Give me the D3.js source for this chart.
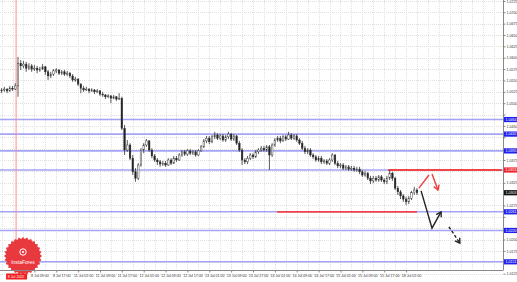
<!DOCTYPE html>
<html>
<head>
<meta charset="utf-8">
<script src="https://cdn.jsdelivr.net/npm/d3@7"></script>
<style>
html, body { margin: 0; padding: 0; background: #fff; overflow: hidden; }
svg { display: block; font-family: "Liberation Sans", Arial, sans-serif; }
</style>
</head>
<body>
<div id="chart"></div>
<script>
// hourly candles, one per slot
const opens = [
1.0527,1.0529,1.0531,1.0527,1.0533,1.0531,1.0538,1.0588,1.0582,1.0586,
1.0577,1.0582,1.0575,1.0577,1.0573,1.0575,1.0580,1.0569,1.0560,1.0564,
1.0571,1.0573,1.0566,1.0569,1.0564,1.0566,1.0560,1.0551,1.0553,1.0542,
1.0533,1.0529,1.0531,1.0527,1.0529,1.0525,1.0527,1.0520,1.0518,1.0514,
1.0516,1.0511,1.0514,1.0509,1.0511,1.0445,1.0397,1.0408,1.0379,1.0349,
1.0335,1.0364,1.0397,1.0408,1.0417,1.0397,1.0384,1.0375,1.0371,1.0366,
1.0368,1.0364,1.0375,1.0368,1.0379,1.0375,1.0386,1.0393,1.0388,1.0395,
1.0390,1.0393,1.0386,1.0395,1.0404,1.0417,1.0423,1.0415,1.0426,1.0430,
1.0423,1.0428,1.0419,1.0426,1.0432,1.0421,1.0428,1.0412,1.0397,1.0375,
1.0371,1.0379,1.0386,1.0382,1.0393,1.0397,1.0401,1.0397,1.0404,1.0386,
1.0408,1.0419,1.0423,1.0417,1.0426,1.0421,1.0430,1.0423,1.0428,1.0419,
1.0412,1.0401,1.0393,1.0397,1.0386,1.0382,1.0375,1.0379,1.0371,1.0373,
1.0368,1.0375,1.0386,1.0368,1.0362,1.0364,1.0357,1.0360,1.0355,1.0357,
1.0353,1.0355,1.0349,1.0342,1.0346,1.0335,1.0329,1.0335,1.0331,1.0338,
1.0331,1.0327,1.0335,1.0346,1.0335,1.0313,1.0305,1.0296,1.0289,1.0283,
1.0291,1.0303,1.0309
];
const highs = [
1.0533,1.0536,1.0533,1.0538,1.0538,1.0544,1.0602,1.0595,1.0593,1.0591,
1.0588,1.0586,1.0584,1.0582,1.0580,1.0586,1.0582,1.0573,1.0569,1.0575,
1.0577,1.0575,1.0573,1.0573,1.0571,1.0569,1.0564,1.0558,1.0555,1.0544,
1.0538,1.0536,1.0533,1.0533,1.0531,1.0531,1.0529,1.0525,1.0520,1.0520,
1.0518,1.0518,1.0516,1.0522,1.0514,1.0452,1.0419,1.0412,1.0386,1.0357,
1.0368,1.0401,1.0412,1.0421,1.0419,1.0401,1.0388,1.0379,1.0375,1.0373,
1.0373,1.0379,1.0379,1.0384,1.0384,1.0390,1.0397,1.0397,1.0399,1.0399,
1.0397,1.0397,1.0399,1.0408,1.0421,1.0428,1.0428,1.0430,1.0437,1.0434,
1.0432,1.0432,1.0430,1.0437,1.0434,1.0432,1.0430,1.0417,1.0401,1.0379,
1.0384,1.0390,1.0390,1.0397,1.0401,1.0406,1.0406,1.0408,1.0408,1.0412,
1.0423,1.0428,1.0428,1.0430,1.0430,1.0437,1.0434,1.0432,1.0432,1.0423,
1.0417,1.0406,1.0401,1.0401,1.0390,1.0386,1.0384,1.0384,1.0377,1.0377,
1.0379,1.0390,1.0388,1.0373,1.0368,1.0368,1.0364,1.0364,1.0362,1.0362,
1.0360,1.0360,1.0353,1.0351,1.0349,1.0340,1.0340,1.0340,1.0342,1.0342,
1.0335,1.0340,1.0353,1.0349,1.0338,1.0318,1.0309,1.0300,1.0294,1.0296,
1.0307,1.0316,1.0313
];
const lows = [
1.0522,1.0525,1.0522,1.0525,1.0527,1.0529,1.0514,1.0573,1.0577,1.0569,
1.0573,1.0569,1.0571,1.0566,1.0569,1.0573,1.0562,1.0551,1.0555,1.0560,
1.0566,1.0562,1.0562,1.0560,1.0560,1.0555,1.0547,1.0547,1.0538,1.0522,
1.0525,1.0527,1.0522,1.0525,1.0520,1.0522,1.0516,1.0514,1.0509,1.0511,
1.0500,1.0509,1.0505,1.0507,1.0441,1.0386,1.0393,1.0375,1.0342,1.0327,
1.0331,1.0360,1.0390,1.0404,1.0393,1.0379,1.0371,1.0364,1.0360,1.0362,
1.0360,1.0362,1.0364,1.0366,1.0371,1.0373,1.0382,1.0384,1.0384,1.0386,
1.0386,1.0382,1.0384,1.0393,1.0401,1.0412,1.0410,1.0412,1.0421,1.0419,
1.0419,1.0415,1.0415,1.0421,1.0417,1.0417,1.0408,1.0393,1.0364,1.0366,
1.0366,1.0375,1.0377,1.0379,1.0388,1.0393,1.0393,1.0393,1.0353,1.0382,
1.0404,1.0415,1.0412,1.0415,1.0417,1.0419,1.0419,1.0419,1.0415,1.0408,
1.0397,1.0388,1.0388,1.0382,1.0377,1.0371,1.0371,1.0366,1.0366,1.0364,
1.0364,1.0371,1.0364,1.0357,1.0357,1.0353,1.0353,1.0351,1.0351,1.0349,
1.0349,1.0344,1.0338,1.0338,1.0331,1.0322,1.0324,1.0327,1.0327,1.0327,
1.0322,1.0322,1.0331,1.0329,1.0309,1.0298,1.0289,1.0283,1.0276,1.0278,
1.0287,1.0298,1.0298
];
const closes = [
1.0529,1.0531,1.0527,1.0533,1.0531,1.0538,1.0588,1.0582,1.0586,1.0577,
1.0582,1.0575,1.0577,1.0573,1.0575,1.0580,1.0569,1.0560,1.0564,1.0571,
1.0573,1.0566,1.0569,1.0564,1.0566,1.0560,1.0551,1.0553,1.0542,1.0533,
1.0529,1.0531,1.0527,1.0529,1.0525,1.0527,1.0520,1.0518,1.0514,1.0516,
1.0511,1.0514,1.0509,1.0511,1.0445,1.0397,1.0408,1.0379,1.0349,1.0335,
1.0364,1.0397,1.0408,1.0417,1.0397,1.0384,1.0375,1.0371,1.0366,1.0368,
1.0364,1.0375,1.0368,1.0379,1.0375,1.0386,1.0393,1.0388,1.0395,1.0390,
1.0393,1.0386,1.0395,1.0404,1.0417,1.0423,1.0415,1.0426,1.0430,1.0423,
1.0428,1.0419,1.0426,1.0432,1.0421,1.0428,1.0412,1.0397,1.0375,1.0371,
1.0379,1.0386,1.0382,1.0393,1.0397,1.0401,1.0397,1.0404,1.0386,1.0408,
1.0419,1.0423,1.0417,1.0426,1.0421,1.0430,1.0423,1.0428,1.0419,1.0412,
1.0401,1.0393,1.0397,1.0386,1.0382,1.0375,1.0379,1.0371,1.0373,1.0368,
1.0375,1.0386,1.0368,1.0362,1.0364,1.0357,1.0360,1.0355,1.0357,1.0353,
1.0355,1.0349,1.0342,1.0346,1.0335,1.0329,1.0335,1.0331,1.0338,1.0331,
1.0327,1.0335,1.0346,1.0335,1.0313,1.0305,1.0296,1.0289,1.0283,1.0291,
1.0303,1.0309,1.0303
];

const priceTicks = [1.0725, 1.0700, 1.0675, 1.0650, 1.0625, 1.0600, 1.0575, 1.0550, 1.0525,
  1.0500, 1.0475, 1.0450, 1.0425, 1.0400, 1.0375, 1.0350, 1.0325, 1.0300, 1.0275, 1.0250,
  1.0225, 1.0200, 1.0175, 1.0150, 1.0125];
const timeSlots = [12, 20, 28, 36, 44, 52, 60, 68, 76, 84, 92, 100, 108, 116, 124, 132, 140, 148];
const timeLabels = ["8 Jul 09:00", "8 Jul 17:00", "11 Jul 01:00", "11 Jul 09:00", "11 Jul 17:00",
  "12 Jul 01:00", "12 Jul 09:00", "12 Jul 17:00", "13 Jul 01:00", "13 Jul 09:00", "13 Jul 17:00",
  "14 Jul 01:00", "14 Jul 09:00", "14 Jul 17:00", "15 Jul 01:00", "15 Jul 09:00", "15 Jul 17:00",
  "18 Jul 01:00"];
const markerSlot = 5.3;
const markerLabel = "8 Jul 2022";

const levelPrices = [1.0464, 1.0432, 1.0395, 1.0353, 1.0261, 1.0220, 1.0151];
const redLevel = 1.0353;
const redSegments = [
  { price: 1.0353, from: 141.4, to: 183 },
  { price: 1.0261, from: 100.8, to: 152 }
];
const redStroke = [[152.7, 1.0313], [156.4, 1.0342]];
const redArrow = [[157.5, 1.0344], [159.7, 1.0309]];
const blackArrow = [[153.5, 1.0307], [157.5, 1.0225], [160.8, 1.0261]];
const dashArrow = [[163.7, 1.0228], [167.7, 1.0192]];
const lastPrice = 1.0303;

const width = 517, height = 282;
const plotRight = 503, plotBottom = 270;

const svg = d3.select("#chart").append("svg")
  .attr("width", width)
  .attr("height", height);

const x = d3.scaleLinear().domain([0, 183]).range([1.6, 501.7]);
const y = d3.scaleLinear().domain([1.0727 - 0.00022 * plotBottom, 1.0727]).range([plotBottom, 0]);

svg.append("rect").attr("width", width).attr("height", height).attr("fill", "#fff");

// dotted grid
const grid = svg.append("g").attr("stroke", "#e0e0e0").attr("stroke-width", 1).attr("stroke-dasharray", "1,1");
grid.selectAll("line.v")
  .data(d3.range(0, 184, 4))
  .enter().append("line")
  .attr("x1", d => Math.round(x(d)) + 0.5).attr("x2", d => Math.round(x(d)) + 0.5)
  .attr("y1", 0).attr("y2", plotBottom);
grid.selectAll("line.h")
  .data(priceTicks)
  .enter().append("line")
  .attr("x1", 0).attr("x2", plotRight)
  .attr("y1", d => Math.round(y(d)) + 0.5).attr("y2", d => Math.round(y(d)) + 0.5);

// horizontal levels
svg.append("g").selectAll("line")
  .data(levelPrices)
  .enter().append("line")
  .attr("x1", 0).attr("x2", plotRight)
  .attr("y1", d => y(d)).attr("y2", d => y(d))
  .attr("stroke", "#a4a4f6")
  .attr("stroke-width", 1.6);

svg.append("g").selectAll("line")
  .data(redSegments)
  .enter().append("line")
  .attr("x1", d => x(d.from)).attr("x2", d => Math.min(x(d.to), plotRight))
  .attr("y1", d => y(d.price)).attr("y2", d => y(d.price))
  .attr("stroke", "#f0464b")
  .attr("stroke-width", 1.8);

// day marker line
svg.append("line")
  .attr("x1", x(markerSlot)).attr("x2", x(markerSlot))
  .attr("y1", 0).attr("y2", plotBottom)
  .attr("stroke", "#ff8c8c").attr("stroke-width", 1);

// candles
const candles = closes.map((c, i) => ({ i, o: opens[i], h: highs[i], l: lows[i], c }));
const cg = svg.append("g");
cg.selectAll("line")
  .data(candles)
  .enter().append("line")
  .attr("x1", d => x(d.i)).attr("x2", d => x(d.i))
  .attr("y1", d => y(d.h)).attr("y2", d => y(d.l))
  .attr("stroke", "#333").attr("stroke-width", 0.8);
cg.selectAll("rect")
  .data(candles)
  .enter().append("rect")
  .attr("x", d => x(d.i) - 0.8)
  .attr("width", 1.6)
  .attr("y", d => y(Math.max(d.o, d.c)))
  .attr("height", d => Math.max(0.8, Math.abs(y(d.o) - y(d.c))))
  .attr("fill", d => d.c > d.o ? "#fff" : "#222")
  .attr("stroke", "#333").attr("stroke-width", 0.45);

// forecast arrows
const line = d3.line().x(d => x(d[0])).y(d => y(d[1]));
function head(g, pts, color) {
  const a = pts[pts.length - 2], b = pts[pts.length - 1];
  const ax = x(a[0]), ay = y(a[1]), bx = x(b[0]), by = y(b[1]);
  const ang = Math.atan2(by - ay, bx - ax);
  const len = 5.5, spread = 0.55;
  const p1 = [bx - len * Math.cos(ang - spread), by - len * Math.sin(ang - spread)];
  const p2 = [bx - len * Math.cos(ang + spread), by - len * Math.sin(ang + spread)];
  g.append("path")
    .attr("d", `M${p1[0]},${p1[1]}L${bx},${by}L${p2[0]},${p2[1]}`)
    .attr("fill", "none").attr("stroke", color).attr("stroke-width", 1.4);
}
const ag = svg.append("g");
ag.append("path").attr("d", line(redStroke))
  .attr("fill", "none").attr("stroke", "#f03c3c").attr("stroke-width", 1.4);
ag.append("path").attr("d", line(redArrow))
  .attr("fill", "none").attr("stroke", "#f03c3c").attr("stroke-width", 1.4);
head(ag, redArrow, "#f03c3c");
ag.append("path").attr("d", line(blackArrow))
  .attr("fill", "none").attr("stroke", "#222").attr("stroke-width", 1.4);
head(ag, blackArrow, "#222");
ag.append("path").attr("d", line(dashArrow))
  .attr("fill", "none").attr("stroke", "#222").attr("stroke-width", 1.4)
  .attr("stroke-dasharray", "3,2");
head(ag, dashArrow, "#222");

// logo
const logo = svg.append("g").attr("transform", "translate(23,256)");
const teeth = 28;
const gear = d3.lineRadial().curve(d3.curveLinearClosed)
  .angle(d => d[0]).radius(d => d[1]);
logo.append("path")
  .attr("d", gear(d3.range(teeth * 2).map(k => [k * Math.PI / teeth, k % 2 ? 17 : 19])))
  .attr("fill", "#e8393f");
logo.append("circle").attr("cy", -4).attr("r", 3.2)
  .attr("fill", "none").attr("stroke", "#fff").attr("stroke-width", 1);
logo.append("circle").attr("cy", -4).attr("r", 1.1).attr("fill", "#fff");
logo.append("text").attr("y", 7.5).attr("text-anchor", "middle")
  .attr("font-size", 5).attr("fill", "#fff").text("InstaForex");

// frame
svg.append("line").attr("x1", plotRight + 0.5).attr("x2", plotRight + 0.5)
  .attr("y1", 0).attr("y2", plotBottom).attr("stroke", "#888");
svg.append("line").attr("x1", 0).attr("x2", plotRight + 0.5)
  .attr("y1", plotBottom + 0.5).attr("y2", plotBottom + 0.5).attr("stroke", "#888");

// price axis; labels hidden behind a price tag are dropped
const tagPrices = levelPrices.concat([lastPrice]);
const yAxis = svg.append("g")
  .attr("transform", `translate(${plotRight + 0.5},0)`)
  .call(d3.axisRight(y).tickValues(priceTicks).tickFormat(d3.format(".4f")).tickSize(2).tickPadding(1));
yAxis.select(".domain").remove();
yAxis.selectAll("line").attr("stroke", "#888");
yAxis.selectAll(".tick text").attr("font-size", 3.6).attr("fill", "#333")
  .attr("font-family", "Liberation Sans, Arial, sans-serif")
  .filter(d => tagPrices.some(p => Math.abs(y(p) - y(d)) < 5.5))
  .remove();

function priceTag(price, bg) {
  const g = svg.append("g").attr("transform", `translate(${plotRight + 1},${y(price)})`);
  g.append("rect").attr("x", 0).attr("y", -2.6).attr("width", 13.5).attr("height", 5.2).attr("fill", bg);
  g.append("text").attr("x", 1.5).attr("y", 1.3).attr("font-size", 3.6).attr("fill", "#fff")
    .text(d3.format(".4f")(price));
}
levelPrices.forEach(p => priceTag(p, p === redLevel ? "#f0262c" : "#2020f0"));
priceTag(lastPrice, "#111");

// time axis
const xAxis = svg.append("g")
  .attr("transform", `translate(0,${plotBottom + 0.5})`)
  .call(d3.axisBottom(x).tickValues(timeSlots).tickFormat((d, i) => timeLabels[i]).tickSize(2).tickPadding(2));
xAxis.select(".domain").remove();
xAxis.selectAll("line").attr("stroke", "#888");
xAxis.selectAll("text").attr("font-size", 3.6).attr("fill", "#333").attr("dx", 5)
  .attr("font-family", "Liberation Sans, Arial, sans-serif");

const mk = svg.append("g").attr("transform", `translate(${x(markerSlot)},${plotBottom + 2})`);
mk.append("rect").attr("x", -10).attr("y", 1.5).attr("width", 21).attr("height", 6).attr("fill", "#f01e1e");
mk.append("text").attr("y", 6).attr("text-anchor", "middle").attr("font-size", 3.6)
  .attr("fill", "#fff").text(markerLabel);
</script>
</body>
</html>
